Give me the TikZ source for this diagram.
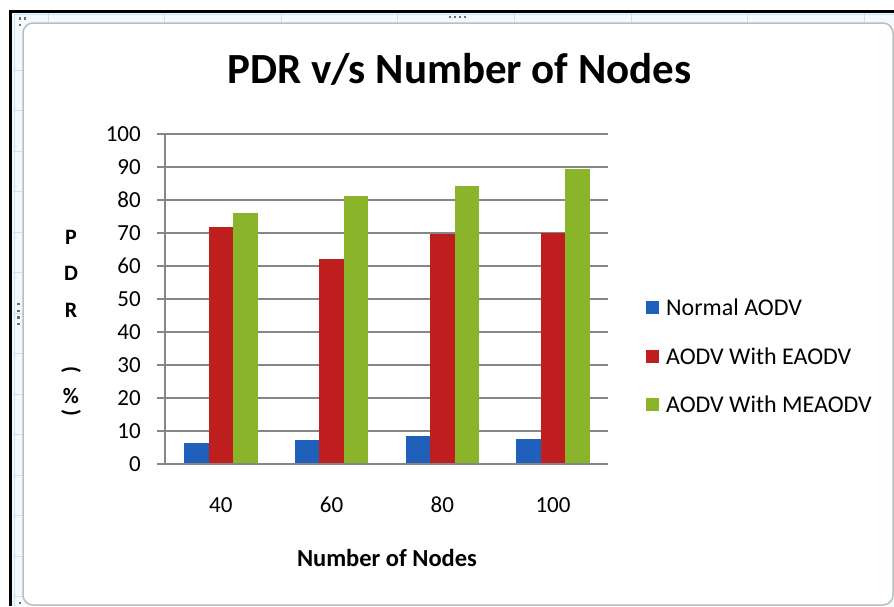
\documentclass[tikz,border=0pt]{standalone}
\usepackage{fontspec}
\setmainfont{Carlito}
\definecolor{BarBlue}{RGB}{31,96,186}
\definecolor{BarRed}{RGB}{190,30,30}
\definecolor{BarGreen}{RGB}{138,181,43}
\definecolor{GridGrey}{RGB}{134,134,134}
\definecolor{CellBlue}{RGB}{198,228,240}
\definecolor{StripBlue}{RGB}{243,250,253}
\definecolor{BorderGrey}{RGB}{185,190,192}
\definecolor{HandleGrey}{RGB}{110,110,110}

\begin{document}
\begin{tikzpicture}[x=1pt,y=-1pt]
  \tikzstyle{every node}=[font=\fontsize{23}{26}\selectfont, inner sep=0pt]
  \tikzstyle{handle}=[fill=HandleGrey]
  \tikzstyle{gridline}=[draw=GridGrey, line width=1.3]
  \useasboundingbox (0,0) rectangle (894,606);
  % sheet cells round the chart
  \fill[StripBlue] (10,11) rectangle (894,606);
  \foreach \cx in {48,164.6,281.2,397.8,514.4,631,747.6,864.2}
    \draw[CellBlue, line width=0.8] (\cx,13) -- (\cx,23);
  \foreach \cy in {70,110.5,151,191.5,232,272.5,313,353.5,394,434.5,475,515.5,556,596.5}
    \draw[CellBlue, line width=0.8] (13,\cy) -- (23,\cy);
  \draw[CellBlue, line width=0.8] (14,14) -- (894,14);
  \draw[CellBlue, line width=0.8] (14,14) -- (14,606);
  \draw[black, line width=2.5] (10.5,606) -- (10.5,11.5) -- (894,11.5);
  % chart area
  \draw[BorderGrey, line width=1.5, fill=white, rounded corners=10] (23,23) rectangle (893,605);
  \foreach \hx in {450,455,460,465}
    \fill[handle] (\hx-1.2,15.5) rectangle (\hx+1.2,17.9);
  \foreach \hy in {304,310.7,317.3,324}
    \fill[handle] (17.1,\hy-1.2) rectangle (19.5,\hy+1.2);
  \fill[handle] (18.8,17.1) rectangle (21.2,19.5);
  \fill[handle] (23.8,17.1) rectangle (26.2,19.5);
  \fill[handle] (18.8,23.8) rectangle (21.2,26.2);
  \fill[handle] (18.8,601.8) rectangle (21.2,604.2);

  \node[anchor=base, font=\bfseries\fontsize{43}{48}\selectfont] (title) at (459.5,83) {PDR v/s Number of Nodes};

  % value axis
  \foreach \v in {0,10,...,100} {
    \draw[gridline] (157,{464-3.3*\v}) -- (608,{464-3.3*\v});
    \node[anchor=east] (tick\v) at (141,{464-3.3*\v}) {\v};
  }
  \draw[gridline] (165,134) -- (165,464);

  % bars: nodes / normal / EAODV / MEAODV
  \foreach \n/\b/\r/\g [count=\i from 0] in {40/6.4/71.8/76.1, 60/7.4/62.1/81.2, 80/8.4/69.6/84.3, 100/7.5/69.9/89.5} {
    \pgfmathsetmacro\xa{184+110.75*\i}
    \fill[BarBlue] (\xa,464) rectangle ({\xa+24.5},{464-3.3*\b});
    \fill[BarRed] ({\xa+24.5},464) rectangle ({\xa+49},{464-3.3*\r});
    \fill[BarGreen] ({\xa+49},464) rectangle ({\xa+73.5},{464-3.3*\g});
    \node (cat\n) at ({\xa+36.75},505) {\n};
  }
  \draw[gridline] (157,464) -- (608,464);

  \node[font=\bfseries\fontsize{24.5}{27}\selectfont] (xtitle) at (387,558) {Number of Nodes};

  % stacked axis title
  \begin{scope}[every node/.style={font=\bfseries\fontsize{22}{24}\selectfont, inner sep=0pt}]
    \node (yP) at (71,237) {P};
    \node (yD) at (71,273) {D};
    \node (yR) at (71,310) {R};
    \node (yOpen) at (71,370) {\rotatebox{-90}{(}};
    \node (yPct) at (71,396) {\%};
    \node (yClose) at (71,413) {\rotatebox{-90}{)}};
  \end{scope}

  % legend
  \foreach \lab/\col/\ly [count=\k] in {Normal AODV/BarBlue/307, AODV With EAODV/BarRed/356, AODV With MEAODV/BarGreen/404} {
    \fill[\col] (646,{\ly-6.5}) rectangle (659,{\ly+6.5});
    \node[anchor=west, font=\fontsize{24}{26}\selectfont] (leg\k) at (666,\ly) {\lab};
  }
\end{tikzpicture}
\end{document}
